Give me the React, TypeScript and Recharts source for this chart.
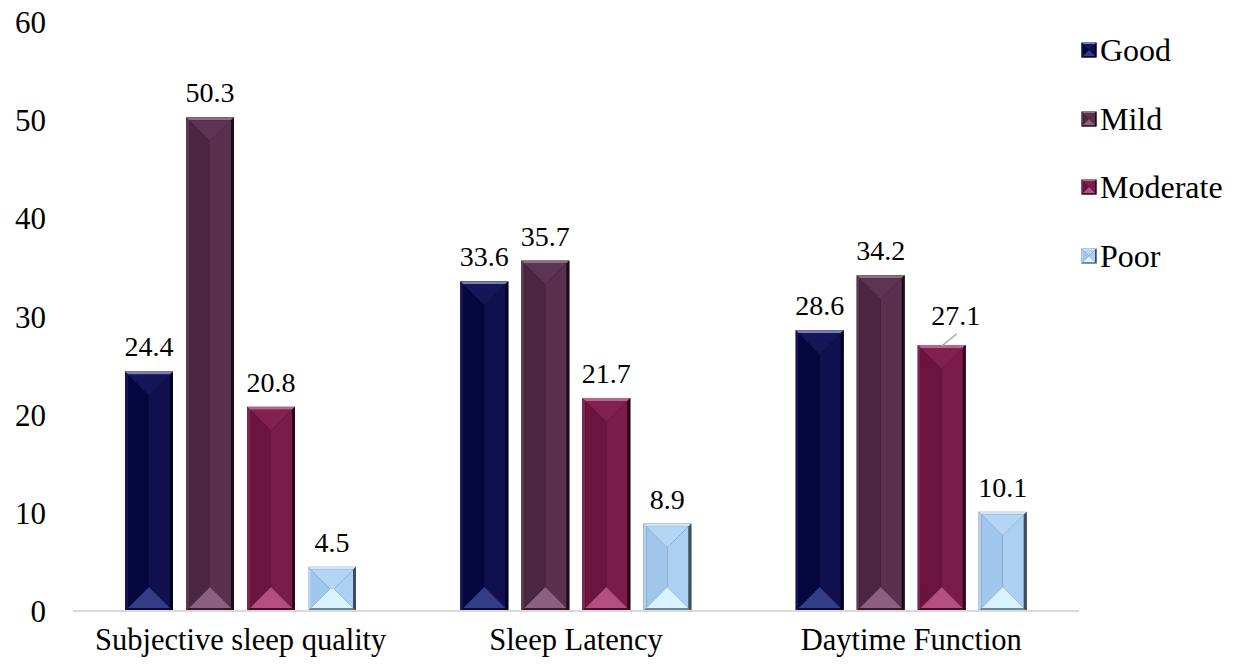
import React from 'react';
import { BarChart, Bar, XAxis, YAxis, Legend, LabelList } from 'recharts';

// Sleep component scores by severity group
const categories = ['Subjective sleep quality', 'Sleep Latency', 'Daytime Function'];
const good = [24.4, 33.6, 28.6];
const mild = [50.3, 35.7, 34.2];
const moderate = [20.8, 21.7, 27.1];
const poor = [4.5, 8.9, 10.1];
const yTicks = [0, 10, 20, 30, 40, 50, 60];
const seriesNames = ['Good', 'Mild', 'Moderate', 'Poor'];

const data = categories.map((category, i) => ({
  category,
  Good: good[i],
  Mild: mild[i],
  Moderate: moderate[i],
  Poor: poor[i],
}));

const FONT = '"Liberation Serif", "Times New Roman", serif';

type Shade = {
  left: string;
  right: string;
  top: string;
  bottom: string;
  frameT: string;
  frameL: string;
  frameB: string;
  frameR: string;
};

// Facet colours for the bevelled bars
const shades: Record<string, Shade> = {
  Good: {
    left: '#06063f',
    right: '#10104f',
    top: '#15155a',
    bottom: '#333d85',
    frameT: '#7d7db0',
    frameL: '#13135a',
    frameB: '#0a0a3a',
    frameR: '#02021f',
  },
  Mild: {
    left: '#4a2641',
    right: '#59314f',
    top: '#5d3454',
    bottom: '#8c6080',
    frameT: '#8d6c86',
    frameL: '#5a3650',
    frameB: '#35182d',
    frameR: '#1c0a17',
  },
  Moderate: {
    left: '#6b1440',
    right: '#7b1b4b',
    top: '#82214f',
    bottom: '#b4507f',
    frameT: '#b0688c',
    frameL: '#7f2552',
    frameB: '#4c0a2c',
    frameR: '#2a0616',
  },
  Poor: {
    left: '#a0c6ec',
    right: '#abd0f2',
    top: '#b4d5f4',
    bottom: '#d9f2ff',
    frameT: '#cfe4f8',
    frameL: '#b5d3f0',
    frameB: '#6c86a0',
    frameR: '#3c4d5e',
  },
};

const pts = (arr: number[][]) => arr.map((p) => p.join(',')).join(' ');

function BevelRect({ x, y, w, h, s, frame }: { x: number; y: number; w: number; h: number; s: Shade; frame: number }) {
  if (!(h > 0) || !(w > 0)) return null;
  const e = Math.min(frame, w / 4, h / 4);
  const ix = x + e;
  const iy = y + e;
  const iw = w - 2 * e;
  const ih = h - 2 * e;
  const b = Math.min(iw / 2, ih / 2);
  return (
    <g>
      <rect x={x} y={y} width={w} height={h} fill={s.frameR} />
      <polygon points={pts([[x, y], [x + w, y], [ix + iw, iy], [ix, iy]])} fill={s.frameT} />
      <polygon points={pts([[x, y], [ix, iy], [ix, iy + ih], [x, y + h]])} fill={s.frameL} />
      <polygon points={pts([[x, y + h], [ix, iy + ih], [ix + iw, iy + ih], [x + w, y + h]])} fill={s.frameB} />
      <polygon points={pts([[x + w, y], [x + w, y + h], [ix + iw, iy + ih], [ix + iw, iy]])} fill={s.frameR} />
      <polygon points={pts([[ix, iy], [ix + b, iy + b], [ix + b, iy + ih - b], [ix, iy + ih]])} fill={s.left} />
      <polygon
        points={pts([[ix + iw, iy], [ix + iw, iy + ih], [ix + iw - b, iy + ih - b], [ix + iw - b, iy + b]])}
        fill={s.right}
      />
      <rect x={ix + b} y={iy + b} width={Math.max(0, iw - 2 * b)} height={Math.max(0, ih - 2 * b)} fill={s.right} />
      <polygon points={pts([[ix, iy], [ix + iw, iy], [ix + iw - b, iy + b], [ix + b, iy + b]])} fill={s.top} />
      <polygon
        points={pts([[ix, iy + ih], [ix + b, iy + ih - b], [ix + iw - b, iy + ih - b], [ix + iw, iy + ih]])}
        fill={s.bottom}
      />
    </g>
  );
}

const makeShape = (name: string) => (props: any) => (
  <BevelRect x={props.x} y={props.y} w={props.width} h={props.height} s={shades[name]} frame={3} />
);

// Value labels; the Moderate / Daytime Function label sits up and to the right with a leader line
const makeLabel = (name: string) => (props: any) => {
  const { x, y, width, value, index } = props;
  const cx = x + width / 2;
  const leader = name === 'Moderate' && index === 2;
  if (leader) {
    return (
      <g>
        <line x1={cx} y1={y + 1} x2={cx + 15} y2={y - 11} stroke="#a6a6a6" strokeWidth={1.5} />
        <text x={cx + 14} y={y - 20} textAnchor="middle" fontFamily={FONT} fontSize={28} fill="#000">
          {value}
        </text>
      </g>
    );
  }
  return (
    <text x={cx} y={y - 15} textAnchor="middle" fontFamily={FONT} fontSize={28} fill="#000">
      {value}
    </text>
  );
};

const renderLegend = () => (
  <div style={{ fontFamily: FONT, fontSize: 32, color: '#000' }}>
    {seriesNames.map((name) => (
      <div key={name} style={{ display: 'flex', alignItems: 'center', height: 68.5 }}>
        <svg width={16} height={16} style={{ marginRight: 3, flex: 'none' }}>
          <BevelRect x={0.5} y={0.5} w={15} h={15} s={shades[name]} frame={1.5} />
        </svg>
        <span style={{ lineHeight: '36px' }}>{name}</span>
      </div>
    ))}
  </div>
);

export default function App() {
  return (
    <div style={{ position: 'absolute', left: 0, top: 0, background: '#fff' }}>
      <BarChart
        width={1236}
        height={668}
        data={data}
        margin={{ top: 22, right: 157, bottom: 0, left: 0 }}
        barSize={48}
        barGap={13}
      >
        <XAxis
          dataKey="category"
          height={57}
          tickLine={false}
          tickSize={0}
          tickMargin={17}
          axisLine={{ stroke: '#d9d9d9', strokeWidth: 2 }}
          tick={{ fontFamily: FONT, fontSize: 30.5, fill: '#000' }}
          interval={0}
        />
        <YAxis
          width={73}
          domain={[0, 60]}
          ticks={yTicks}
          axisLine={false}
          tickLine={false}
          tickSize={0}
          tickMargin={27}
          tick={{ fontFamily: FONT, fontSize: 31, fill: '#000' }}
        />
        <Legend
          layout="vertical"
          align="center"
          verticalAlign="middle"
          content={renderLegend}
          wrapperStyle={{ left: 1081, top: 16, width: 155 }}
        />
        {seriesNames.map((name) => (
          <Bar key={name} dataKey={name} fill={shades[name].right} shape={makeShape(name)} isAnimationActive={false}>
            <LabelList dataKey={name} content={makeLabel(name)} />
          </Bar>
        ))}
      </BarChart>
    </div>
  );
}
